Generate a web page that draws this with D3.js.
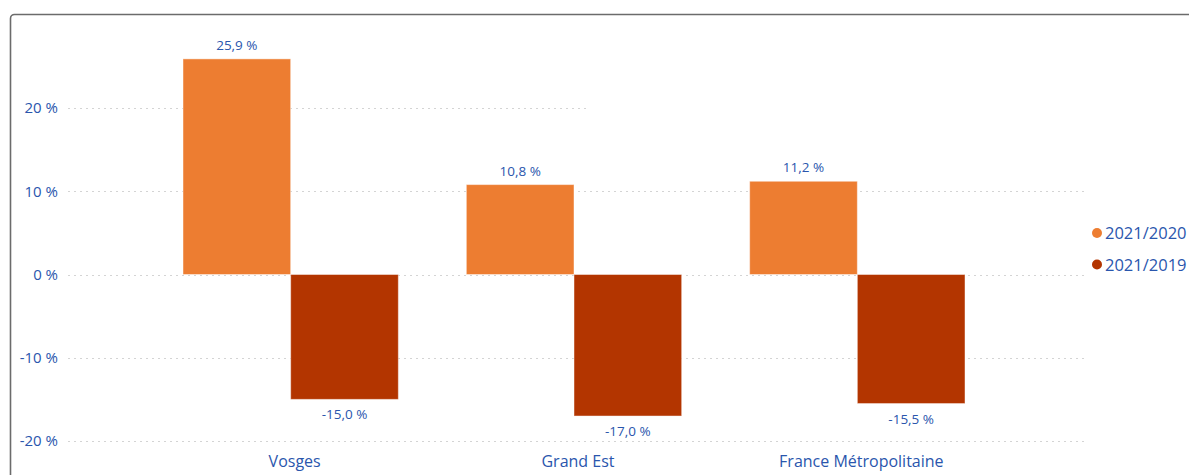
<!doctype html>
<html>
<head>
  <meta charset="utf-8">
  <title>Évolution 2021</title>
  <style>
    body {
      margin: 0;
      background: #fff;
    }
    text {
      font-family: "Open Sans", "Noto Sans", sans-serif;
      fill: #2a56ad;
    }
  </style>
</head>
<body>
  <div id="vis"></div>

  <script src="https://cdn.jsdelivr.net/npm/d3@7"></script>
  <script>

    var categories = ["Vosges", "Grand Est", "France Métropolitaine"];
    var seriesNames = ["2021/2020", "2021/2019"];
    var values2020 = [25.9, 10.8, 11.2];
    var values2019 = [-15.0, -17.0, -15.5];
    var yTicks = [-20, -10, 0, 10, 20];
    var colors = ["#ed7d31", "#b33500"];

    var w = 1189, h = 475;

    var svg = d3.select("#vis")
                .append("svg")
                .attr("width", w)
                .attr("height", h);

    // frame
    svg.append("rect")
       .attr("x", 10.5)
       .attr("y", 14.5)
       .attr("width", 1200)
       .attr("height", 500)
       .attr("rx", 4)
       .attr("fill", "none")
       .attr("stroke", "#6b6b6b")
       .attr("stroke-width", 1.6);

    var yScale = d3.scaleLinear()
                   .domain([-20, 20])
                   .range([441, 108]);

    var x0 = d3.scaleBand()
               .domain(categories)
               .range([149, 999])
               .paddingInner(0.24)
               .paddingOuter(0.12);

    var x1 = d3.scaleBand()
               .domain(seriesNames)
               .range([0, x0.bandwidth()]);

    // gridlines
    svg.selectAll("line.grid")
       .data(yTicks)
       .enter()
       .append("line")
       .attr("class", "grid")
       .attr("x1", 68)
       .attr("x2", function(d){ return d === 20 ? 588 : 1086; })
       .attr("y1", function(d){ return Math.round(yScale(d)) + 0.5; })
       .attr("y2", function(d){ return Math.round(yScale(d)) + 0.5; })
       .attr("stroke", "#d4d4d4")
       .attr("stroke-width", 1)
       .attr("stroke-dasharray", "2,4");

    // y axis labels
    var yAxis = d3.axisLeft(yScale)
                  .tickValues(yTicks)
                  .tickSize(0)
                  .tickPadding(0)
                  .tickFormat(function(d){ return d + " %"; });

    var gy = svg.append("g")
                .attr("transform", "translate(58,0)")
                .call(yAxis);
    gy.select(".domain").remove();
    gy.selectAll("text")
      .attr("fill", "#2a56ad")
      .style("font-size", "15px");

    var rows = categories.map(function(c, i){
      return {cat: c, vals: [values2020[i], values2019[i]]};
    });

    var groups = svg.selectAll("g.cat")
                    .data(rows)
                    .enter()
                    .append("g")
                    .attr("class", "cat")
                    .attr("transform", function(d){
                      return "translate(" + x0(d.cat) + ",0)";
                    });

    var bars = groups.selectAll("g.bar")
                     .data(function(d){
                       return d.vals.map(function(v, j){
                         return {name: seriesNames[j], v: v, j: j};
                       });
                     })
                     .enter()
                     .append("g")
                     .attr("class", "bar");

    bars.append("rect")
        .attr("x", function(d){ return x1(d.name); })
        .attr("y", function(d){ return yScale(Math.max(0, d.v)); })
        .attr("width", x1.bandwidth())
        .attr("height", function(d){
          return Math.abs(yScale(d.v) - yScale(0));
        })
        .attr("fill", function(d){ return colors[d.j]; })
        .attr("stroke", "#ffffff")
        .attr("stroke-opacity", 0.45)
        .attr("stroke-width", 1);

    bars.append("text")
        .attr("x", function(d){ return x1(d.name) + x1.bandwidth() / 2; })
        .attr("y", function(d){
          return d.v >= 0 ? yScale(d.v) - 9 : yScale(d.v) + 20;
        })
        .attr("text-anchor", "middle")
        .style("font-size", "13.5px")
        .text(function(d){
          return d.v.toFixed(1).replace(".", ",") + " %";
        });

    // category labels
    svg.selectAll("text.cat")
       .data(categories)
       .enter()
       .append("text")
       .attr("class", "cat")
       .attr("x", function(d){ return x0(d) + x0.bandwidth() / 2 + 4; })
       .attr("y", 467)
       .attr("text-anchor", "middle")
       .style("font-size", "16px")
       .text(function(d){ return d; });

    // legend
    var legend = svg.selectAll("g.legend")
                    .data(seriesNames)
                    .enter()
                    .append("g")
                    .attr("class", "legend")
                    .attr("transform", function(d, i){
                      return "translate(1097," + (233 + i * 31.5) + ")";
                    });

    legend.append("circle")
          .attr("r", 5)
          .attr("fill", function(d, i){ return colors[i]; });

    legend.append("text")
          .attr("x", 8)
          .attr("y", 6)
          .style("font-size", "16.5px")
          .text(function(d){ return d; });
  </script>
</body>
</html>
